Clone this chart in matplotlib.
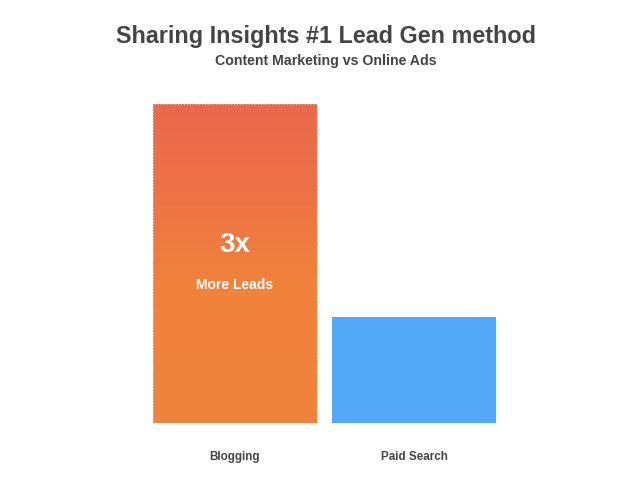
import matplotlib.pyplot as plt
import numpy as np
from matplotlib.colors import LinearSegmentedColormap

categories = ["Blogging", "Paid Search"]
leads = [3, 1]
bar_colors = ["#EC694C", "#53A8F7"]

plt.rcParams['font.family'] = ['Liberation Sans', 'DejaVu Sans']

fig = plt.figure(figsize=(6.42, 4.82), dpi=100)
ax = fig.add_axes([145.5 / 642, (482 - 423) / 482, 358 / 642, 319 / 482])

x = np.arange(len(categories))
bars = ax.bar(x, leads, width=0.916, color=bar_colors)

# gradient fill for the first bar (red at top -> orange at bottom)
grad = LinearSegmentedColormap.from_list(
    "lead", [(0.0, "#F0843C"), (0.45, "#F0823C"), (0.75, "#EE7047"), (1.0, "#EC684C")])
b = bars[0]
bx, by = b.get_x(), b.get_y()
bw, bh = b.get_width(), b.get_height()
img = ax.imshow(np.linspace(0, 1, 256).reshape(-1, 1), cmap=grad, origin='lower',
                extent=[bx, bx + bw, by, by + bh], aspect='auto', zorder=2)
img.set_clip_path(b)
b.set_facecolor('none')
b.set_edgecolor('#c8c8c8')
b.set_linestyle(':')
b.set_linewidth(0.8)
b.set_zorder(3)
ax.set_xlim(-0.5, 1.5)
ax.set_ylim(0, 3)

ax.text(x[0], 1.67, "3x", color='white', fontsize=20, fontweight='bold',
        ha='center', va='center', zorder=4)
ax.text(x[0], 1.3, "More Leads", color='white', fontsize=10, fontweight='bold',
        ha='center', va='center', zorder=4)

ax.set_xticks(x)
ax.set_xticklabels(categories, fontsize=8.4, fontweight='bold', color='#444444')
ax.tick_params(axis='x', length=0, pad=20)
ax.set_yticks([])
for s in ax.spines.values():
    s.set_visible(False)

fig.text(325.5 / 642, 1 - 37 / 482, "Sharing Insights #1 Lead Gen method", ha='center', va='center',
         fontsize=16.8, fontweight='bold', color='#444444')
fig.text(326 / 642, 1 - 61 / 482, "Content Marketing vs Online Ads", ha='center', va='center',
         fontsize=10.2, fontweight='bold', color='#444444')

plt.savefig("out.png", dpi=100)
